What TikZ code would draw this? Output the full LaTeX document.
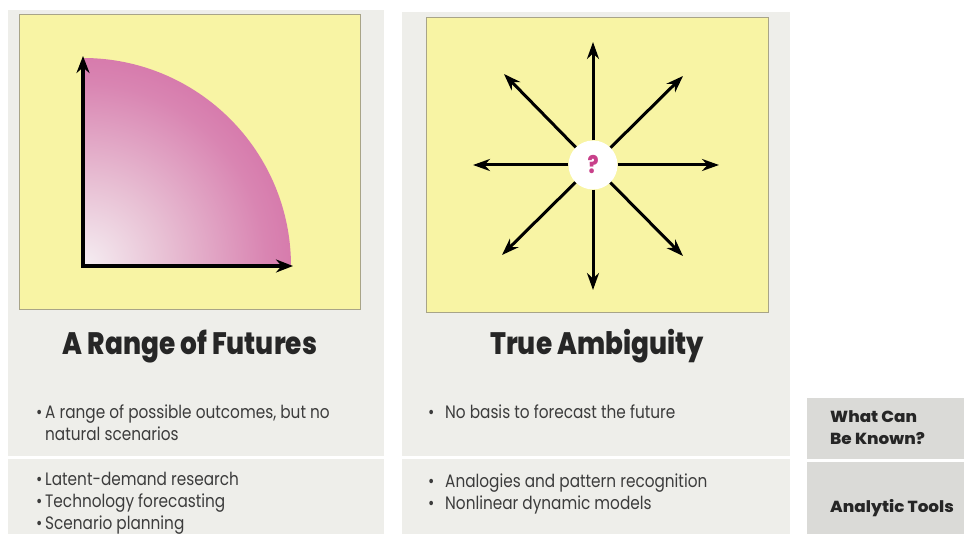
\documentclass[tikz,border=0pt]{standalone}
\usepackage{fontspec}
\setmainfont{Poppins}[FakeStretch=0.85]
\newfontfamily\titlefont{Poppins}[FakeStretch=0.85,BoldFont={Poppins ExtraBold}]
\newfontfamily\labelfont{Poppins}[FakeStretch=1.05,BoldFont={Poppins ExtraBold}]
\usetikzlibrary{arrows.meta}
\definecolor{bgyellow}{HTML}{F8F4A4}
\definecolor{panelgray}{HTML}{EEEEEA}
\definecolor{labelgray}{HTML}{DADAD7}
\definecolor{boxedge}{HTML}{A8A488}
\definecolor{mag}{HTML}{C84690}
\definecolor{maga}{HTML}{CF5E9C}
\definecolor{magb}{HTML}{D985B2}
\definecolor{magmid}{HTML}{E8C0D4}
\definecolor{magpale}{HTML}{F5EEF2}
\definecolor{qmag}{HTML}{C8408A}
\definecolor{txt}{HTML}{262626}
\pgfdeclareradialshading{qshade}{\pgfpoint{0bp}{0bp}}{color(0bp)=(magpale); color(10bp)=(magmid); color(22bp)=(magb); color(34bp)=(maga); color(50bp)=(mag)}
\tikzset{
  ybox/.style={draw=boxedge, line width=0.8pt, fill=bgyellow, anchor=north west, inner sep=0pt},
  axisarrow/.style={line width=3.2pt, line cap=rect, -{Stealth[length=17pt,width=13pt]}},
  rayarrow/.style={line width=3pt, -{Stealth[length=17pt,width=12pt]}},
  qcircle/.style={circle, fill=white, minimum size=49pt, inner sep=0pt, text=qmag, font=\titlefont\bfseries\fontsize{24}{24}\selectfont},
  ttl/.style={anchor=base, text=txt, font=\titlefont\bfseries\fontsize{31}{31}\selectfont},
  bodyline/.style={anchor=base west, text=txt!90, inner sep=0pt, font=\fontsize{18}{21}\selectfont},
  bul/.style={anchor=base west, text=txt!90, inner sep=0pt, font=\fontsize{18}{21}\selectfont},
  lbl/.style={anchor=base west, text=txt, inner sep=0pt, font=\labelfont\bfseries\fontsize{16}{18}\selectfont}
}
\begin{document}
\begin{tikzpicture}[x=1pt,y=-1pt]
\useasboundingbox (0,0) rectangle (964,534);
\fill[white] (0,0) rectangle (964,534);
% column panels
\fill[panelgray] (8,10) rectangle (384,534);
\fill[panelgray] (402,12) rectangle (790,534);
\fill[white] (8,455.5) rectangle (384,458.5);
\fill[white] (402,455.5) rectangle (790,458.5);
% right label boxes
\fill[labelgray] (807,398) rectangle (964,459);
\fill[labelgray] (807,462) rectangle (964,534);
% yellow boxes
\node[ybox, minimum width=341pt, minimum height=295pt] (box1) at (19,14) {};
\node[ybox, minimum width=342pt, minimum height=295pt] (box2) at (426,17) {};
% quarter circle
\coordinate (o) at (83,266);
\coordinate (ytip) at (83,56);
\coordinate (xtip) at (293,266);
\begin{scope}
  \clip (83,58) rectangle (291,266);
  \shade[shading=qshade] (o) circle[radius=208];
\end{scope}
\draw[axisarrow] (o) -- (ytip);
\draw[axisarrow] (o) -- (xtip);
% star of arrows
\node[qcircle] (q) at (593,165) {?};
\coordinate (up) at (593,42);
\coordinate (dn) at (593,290);
\coordinate (lf) at (473,165);
\coordinate (rt) at (719,165);
\coordinate (ul) at (504,74);
\coordinate (ur) at (683,76);
\coordinate (ll) at (502,255);
\coordinate (lr) at (683,256);
\foreach \t in {up,dn,lf,rt,ul,ur,ll,lr} { \draw[rayarrow] (q) -- (\t); }
% titles
\node[ttl] (t1) at (190,355) {A Range of Futures};
\node[ttl] (t2) at (597,355) {True Ambiguity};
% column 1 text
\node[bul] (b11) at (36,419) {\textbullet};
\node[bodyline] (l11) at (45,419) {A range of possible outcomes, but no};
\node[bodyline] (l12) at (45,440) {natural scenarios};
\node[bul] (b12) at (36,485) {\textbullet};
\node[bodyline] (l13) at (45,485) {Latent-demand research};
\node[bul] (b13) at (36,507) {\textbullet};
\node[bodyline] (l14) at (45,507) {Technology forecasting};
\node[bul] (b14) at (36,529) {\textbullet};
\node[bodyline] (l15) at (45,529) {Scenario planning};
% column 2 text
\node[bul] (b21) at (428,419) {\textbullet};
\node[bodyline] (l21) at (445,419) {No basis to forecast the future};
\node[bul] (b22) at (428,487) {\textbullet};
\node[bodyline] (l22) at (445,487) {Analogies and pattern recognition};
\node[bul] (b23) at (428,509) {\textbullet};
\node[bodyline] (l23) at (445,509) {Nonlinear dynamic models};
% right labels
\node[lbl] (k1) at (830,423) {What Can};
\node[lbl] (k2) at (830,445) {Be Known?};
\node[lbl] (k3) at (830,512) {Analytic Tools};
\end{tikzpicture}
\end{document}
